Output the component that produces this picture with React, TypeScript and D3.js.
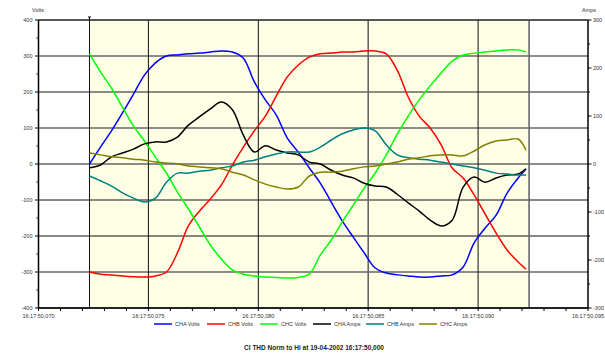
import React from "react";
import * as d3 from "d3";

const times = [72.32, 72.82, 73.32, 73.82, 74.32, 74.82, 75.32, 75.82, 76.32, 76.82, 77.32, 77.82, 78.32, 78.82, 79.32, 79.82, 80.32, 80.82, 81.32, 81.82, 82.32, 82.82, 83.32, 83.82, 84.32, 84.82, 85.32, 85.82, 86.32, 86.82, 87.32, 87.82, 88.32, 88.82, 89.32, 89.82, 90.32, 90.82, 91.32, 91.82, 92.18];

const chaVolts = [0, 47, 92, 142, 194, 247, 281, 300, 303, 306, 308, 311, 314, 311, 294, 228, 178, 136, 72, 33, -11, -53, -106, -158, -203, -247, -289, -303, -308, -311, -314, -314, -311, -308, -286, -219, -178, -142, -81, -39, -14];
const chbVolts = [-300, -306, -308, -311, -313, -314, -311, -300, -247, -172, -131, -97, -58, -3, 47, 92, 133, 189, 242, 275, 297, 306, 308, 311, 311, 314, 314, 306, 261, 186, 133, 100, 53, -11, -39, -86, -139, -192, -239, -272, -292];
const chcVolts = [306, 256, 211, 158, 106, 64, 19, -25, -78, -125, -175, -225, -264, -294, -306, -311, -314, -315, -317, -315, -306, -253, -211, -161, -114, -67, -25, 25, 83, 133, 178, 217, 253, 286, 303, 308, 311, 314, 317, 317, 311];
const chaAmps = [-8, -2, 15, 23, 31, 42, 46, 46, 56, 81, 98, 115, 129, 113, 60, 25, 38, 29, 23, 19, 4, 0, -13, -23, -29, -40, -46, -48, -63, -81, -98, -117, -129, -117, -48, -27, -38, -29, -23, -21, -10];
const chbAmps = [-25, -35, -46, -60, -71, -79, -71, -38, -19, -19, -15, -13, -8, -4, 4, 8, 15, 21, 25, 25, 25, 35, 50, 63, 71, 75, 69, 40, 19, 13, 10, 8, 4, 0, -4, -8, -13, -19, -21, -23, -23];
const chcAmps = [23, 19, 15, 13, 10, 8, 4, 2, 0, -4, -6, -8, -10, -17, -23, -33, -42, -48, -52, -48, -25, -17, -17, -15, -10, -6, -4, 0, 4, 10, 13, 17, 19, 19, 17, 27, 40, 48, 50, 52, 29];

const seriesNames = ["CHA Volts", "CHB Volts", "CHC Volts", "CHA Amps", "CHB Amps", "CHC Amps"];
const seriesColors = ["#0000ff", "#ff0000", "#00ff00", "#000000", "#008080", "#808000"];
const seriesAxis = ["v", "v", "v", "a", "a", "a"];
const seriesValues = [chaVolts, chbVolts, chcVolts, chaAmps, chbAmps, chcAmps];

const xTicks = [70, 75, 80, 85, 90, 95];
const xTickLabels = ["16:17:50,070", "16:17:50,075", "16:17:50,080", "16:17:50,085", "16:17:50,090", "16:17:50,095"];
const voltTicks = [400, 300, 200, 100, 0, -100, -200, -300, -400];
const ampTicks = [300, 200, 100, 0, -100, -200, -300];
const windowStart = 72.32;
const windowEnd = 92.32;
const title = "CI THD Norm to Hi at 19-04-2002 16:17:50,000";

const W = 605, H = 354;
const L = 38.5, R = 588, T = 20, B = 308;

export default function App() {
  const x = d3.scaleLinear().domain([70, 95]).range([L, R]);
  const yv = d3.scaleLinear().domain([-400, 400]).range([B, T]);
  const ya = d3.scaleLinear().domain([-300, 300]).range([B, T]);
  const minorX = d3.range(70, 96, 1);
  const minorV = d3.range(-400, 401, 50);
  const minorA = d3.range(-300, 301, 50);
  const font = "Liberation Sans, Arial, sans-serif";
  const labelColor = "#333";

  const gridLines = [windowStart, 75, 80, 85, 90, windowEnd];

  return (
    <svg width={W} height={H} style={{ position: "absolute", left: 0, top: 0, background: "#fff" }} fontFamily={font}>
      <rect x={x(windowStart)} y={T} width={x(windowEnd) - x(windowStart)} height={B - T} fill="#ffffe6" />
      {voltTicks.map((v) => (
        <line key={"h" + v} x1={L} x2={R} y1={yv(v)} y2={yv(v)} stroke={v === -100 || v === -200 ? "#111" : "#666"} strokeWidth={v === -100 || v === -200 ? 1 : 1.6} />
      ))}
      {gridLines.map((t, i) => (
        <line key={"v" + i} x1={x(t)} x2={x(t)} y1={T} y2={B} stroke={t === 85 || t === windowEnd ? "#666" : "#111"} strokeWidth={t === 85 || t === windowEnd ? 1.6 : 1} />
      ))}
      <line x1={x(windowStart)} x2={x(windowStart)} y1={T - 3} y2={T} stroke="#000" strokeWidth={1} />
      <line x1={x(windowStart) - 1.5} x2={x(windowStart) + 1.5} y1={T - 3} y2={T - 3} stroke="#000" strokeWidth={1} />

      {seriesValues.map((vals, si) => {
        const yScale = seriesAxis[si] === "v" ? yv : ya;
        const line = d3.line<number>().x((_, i) => x(times[i])).y((d) => yScale(d)).curve(d3.curveCatmullRom.alpha(0.5));
        return <path key={si} d={line(vals) || ""} fill="none" stroke={seriesColors[si]} strokeWidth={1.5} />;
      })}

      {/* axes */}
      <line x1={L} x2={L} y1={T} y2={B} stroke="#000" strokeWidth={1.5} />
      <line x1={R} x2={R} y1={T} y2={B} stroke="#000" strokeWidth={1.5} />
      <line x1={L} x2={R} y1={B} y2={B} stroke="#000" strokeWidth={1.5} />
      <line x1={L} x2={R} y1={T} y2={T} stroke="#222" strokeWidth={1.2} />

      {minorV.map((v) => (
        <line key={"lt" + v} x1={v % 100 === 0 ? L - 3.5 : L - 2} x2={L} y1={yv(v)} y2={yv(v)} stroke="#000" strokeWidth={1} />
      ))}
      {voltTicks.map((v) => (
        <text key={"ll" + v} x={L - 6} y={yv(v) + 2} fontSize={5.5} textAnchor="end" fill={labelColor}>{v}</text>
      ))}
      <text x={38} y={12} fontSize={5.5} textAnchor="middle" fill={labelColor}>Volts</text>

      {minorA.map((v) => (
        <line key={"rt" + v} x1={R} x2={v % 100 === 0 ? R + 3.5 : R + 2} y1={ya(v)} y2={ya(v)} stroke="#000" strokeWidth={1} />
      ))}
      {ampTicks.map((v) => (
        <text key={"rl" + v} x={R + 5} y={ya(v) + 2} fontSize={5.5} textAnchor="start" fill={labelColor}>{v}</text>
      ))}
      <text x={589} y={12} fontSize={5.5} textAnchor="middle" fill={labelColor}>Amps</text>

      {minorX.map((t) => (
        <line key={"bt" + t} x1={x(t)} x2={x(t)} y1={B} y2={B + 3} stroke="#000" strokeWidth={1} />
      ))}
      {xTicks.map((t, i) => (
        <text key={"bl" + t} x={x(t)} y={B + 10} fontSize={5.5} textAnchor="middle" fill={labelColor}>{xTickLabels[i]}</text>
      ))}

      {seriesNames.map((n, i) => {
        const lx = 154 + i * 53;
        return (
          <g key={n}>
            <line x1={lx} x2={lx + 18} y1={324} y2={324} stroke={seriesColors[i]} strokeWidth={1.5} />
            <text x={lx + 21} y={326} fontSize={5.5} fill={labelColor}>{n}</text>
          </g>
        );
      })}

      <text x={314} y={350} fontSize={6.5} fontWeight="bold" textAnchor="middle" fill="#222">{title}</text>
    </svg>
  );
}
